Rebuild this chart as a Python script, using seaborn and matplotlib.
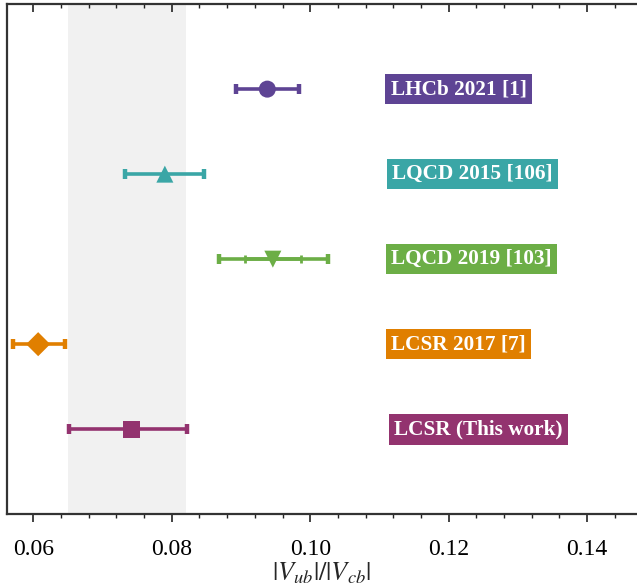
import matplotlib
matplotlib.use("Agg")
import matplotlib.pyplot as plt
from matplotlib.ticker import MultipleLocator
import seaborn as sns
import pandas as pd

# Measurements of |Vub|/|Vcb|
labels = ["LHCb 2021 [1]", "LQCD 2015 [106]", "LQCD 2019 [103]", "LCSR 2017 [7]", "LCSR (This work)"]
centers = [0.0938, 0.0790, 0.0946, 0.0607, 0.0742]
err_lo = [0.0045, 0.0057, 0.0078, 0.0036, 0.0091]
err_hi = [0.0046, 0.0056, 0.0079, 0.0039, 0.0080]
# inner (statistical) error bar for LQCD 2019
inner_lo = [0.0040]
inner_hi = [0.0041]
rows = [5, 4, 3, 2, 1]
markers = ["o", "^", "v", "D", "s"]
colors = ["#5E4494", "#3AA6A6", "#6CAE46", "#E07F00", "#93336F"]
label_x = [0.1116, 0.1118, 0.1117, 0.1117, 0.1121]
band = (0.065, 0.082)

sns.set_theme(style="white")
plt.rcParams["font.family"] = ["Liberation Serif", "DejaVu Serif"]
plt.rcParams["mathtext.fontset"] = "stix"

df = pd.DataFrame({"label": labels, "center": centers, "row": rows})

fig = plt.figure(figsize=(6.37, 5.87), dpi=100)
ax = fig.add_axes([0.011, 0.124, 0.989, 0.869])

ax.axvspan(band[0], band[1], color="#F1F1F1", zorder=0, lw=0)

for i in range(len(labels)):
    ax.errorbar(centers[i], rows[i], xerr=[[err_lo[i]], [err_hi[i]]],
                fmt="none", ecolor=colors[i], elinewidth=2.6,
                capsize=3.5, capthick=3.2, zorder=2)
ax.errorbar(centers[2], rows[2], xerr=[inner_lo, inner_hi], fmt="none",
            ecolor=colors[2], elinewidth=2.6, capsize=3.0, capthick=2.0, zorder=2)

sns.scatterplot(data=df, x="center", y="row", hue="label", style="label",
                palette=colors, markers=markers, s=150, linewidth=0,
                legend=False, ax=ax, zorder=3)

for i in range(len(labels)):
    ax.text(label_x[i], rows[i], labels[i], color="white", fontsize=15.3,
            fontweight="bold", va="center", ha="left",
            bbox=dict(boxstyle="square,pad=0.25", fc=colors[i], ec="none"))

ax.set_xlim(0.0562, 0.1472)
ax.set_ylim(0, 6)
ax.set_yticks([])
ax.xaxis.set_major_locator(MultipleLocator(0.02))
ax.xaxis.set_minor_locator(MultipleLocator(0.004))
ax.set_xticks([0.06, 0.08, 0.10, 0.12, 0.14])
ax.set_xticklabels(["0.06", "0.08", "0.10", "0.12", "0.14"])
ax.tick_params(axis="x", which="both", bottom=True, top=True, direction="out",
               labelsize=17, colors="#222222", labelcolor="black", pad=12)
ax.tick_params(axis="x", which="major", length=6, width=1.2)
ax.tick_params(axis="x", which="minor", length=3, width=1.0)
ax.set_xlabel(r"$|V_{ub}|/|V_{cb}|$", fontsize=19, labelpad=0)
ax.set_ylabel("")

for side in ["left", "bottom", "top"]:
    ax.spines[side].set_color("#333333")
    ax.spines[side].set_linewidth(1.6)
ax.spines["right"].set_visible(False)

fig.canvas.draw()
for t in ax.xaxis.get_major_ticks() + ax.xaxis.get_minor_ticks():
    t.tick2line.set_marker(3)  # top ticks point down into the axes

fig.savefig("out.png", dpi=100)
